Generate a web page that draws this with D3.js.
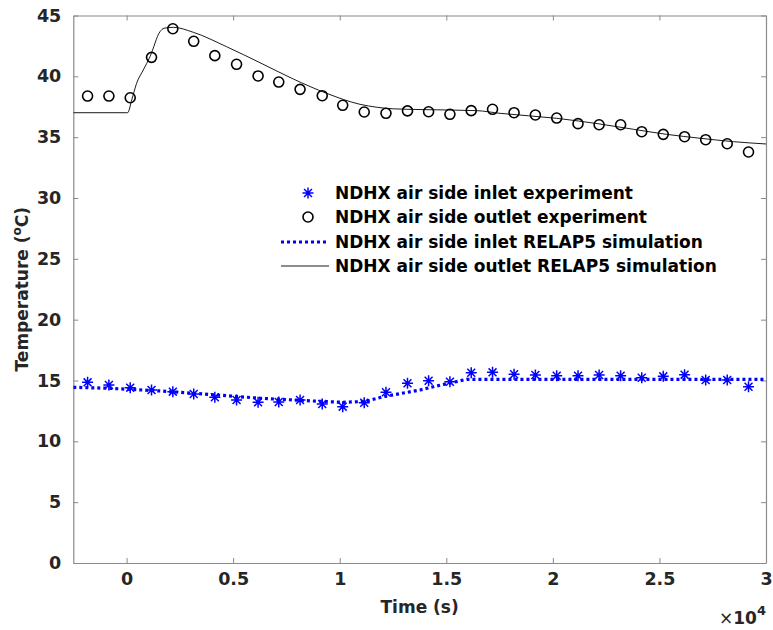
<!DOCTYPE html>
<html><head><meta charset="utf-8">
<script src="https://cdn.jsdelivr.net/npm/d3@7/dist/d3.min.js"></script>
<style>
body{margin:0;background:#fff;}
text{font-family:"DejaVu Sans",sans-serif;}
</style></head>
<body><svg id="chart" width="773" height="630"></svg>
<script>
// ---- data ----
const expTime = [-1830,-830,170,1170,2170,3150,4140,5160,6170,7140,8140,9180,10140,11150,12170,13180,
  14170,15170,16170,17170,18180,19180,20180,21180,22170,23180,24170,25180,26180,27170,28180,29180];
const inletExp = [14.85,14.63,14.41,14.22,14.08,13.89,13.62,13.40,13.21,13.23,13.40,13.07,12.85,13.17,14.03,14.77,
  14.98,14.90,15.64,15.67,15.51,15.45,15.39,15.39,15.45,15.39,15.23,15.34,15.48,15.04,15.04,14.49];
const outletExp = [38.38,38.38,38.24,41.56,43.91,42.88,41.70,40.99,40.03,39.53,38.93,38.41,37.62,37.07,36.96,37.16,
  37.09,36.88,37.18,37.29,37.01,36.82,36.57,36.11,36.02,36.02,35.45,35.23,35.04,34.79,34.46,33.78];
const inletSimTime = [-2500,-775,1580,3130,4700,6260,7800,9390,10170,10950,11270,12050,13770,14400,15960,30000];
const inletSim = [14.44,14.36,14.14,13.95,13.75,13.54,13.40,13.26,13.21,13.26,13.31,13.67,14.22,14.49,15.10,15.10];
const outletSimTime = [-2500,50,240,470,783,1098,1567,1755,2192,3130,4697,6260,7823,9390,10953,11737,12516,13767,
  16428,17521,20181,22213,23776,25343,26907,28470,30000];
const outletSim = [37.01,37.01,38.05,39.43,40.52,41.61,43.67,43.95,44.03,43.62,42.43,41.12,39.78,38.60,37.70,37.46,37.33,37.27,
  37.18,36.96,36.55,36.08,35.65,35.23,34.91,34.63,34.44];
const xTicks = [0,5000,10000,15000,20000,25000,30000];
const xTickLabels = ["0","0.5","1","1.5","2","2.5","3"];
const yTicks = [0,5,10,15,20,25,30,35,40,45];
const legendLabels = ["NDHX air side inlet experiment","NDHX air side outlet experiment",
  "NDHX air side inlet RELAP5 simulation","NDHX air side outlet RELAP5 simulation"];

// ---- layout ----
const L=73.3, R=766, T=15.5, B=563;
const svg = d3.select("#chart");
const x = d3.scaleLinear().domain([-2500,30000]).range([L,R]);
const y = d3.scaleLinear().domain([0,45]).range([B,T]);
const axisCol = "#8a8a8a", textCol = "#262626";
const tickFont = 17.5;

// axes
const gB = svg.append("g").attr("transform",`translate(0,${B})`)
  .call(d3.axisBottom(x).tickValues(xTicks).tickSizeInner(-5).tickSizeOuter(0).tickPadding(10)
    .tickFormat((d,i)=>xTickLabels[i]));
const gT = svg.append("g").attr("transform",`translate(0,${T})`)
  .call(d3.axisTop(x).tickValues(xTicks).tickSizeInner(-5).tickSizeOuter(0).tickFormat(""));
const gL = svg.append("g").attr("transform",`translate(${L},0)`)
  .call(d3.axisLeft(y).tickValues(yTicks).tickSizeInner(-5).tickSizeOuter(0).tickPadding(12));
const gR = svg.append("g").attr("transform",`translate(${R},0)`)
  .call(d3.axisRight(y).tickValues(yTicks).tickSizeInner(-5).tickSizeOuter(0).tickFormat(""));
[gB,gT,gL,gR].forEach(g=>{
  g.select(".domain").attr("stroke",axisCol).attr("stroke-width",1.2);
  g.selectAll(".tick line").attr("stroke",axisCol).attr("stroke-width",1);
  g.selectAll(".tick text").attr("fill",textCol).style("font-size",tickFont+"px").style("font-weight","bold")
   .style("font-family","'DejaVu Sans',sans-serif");
});

// clip
svg.append("clipPath").attr("id","clip").append("rect").attr("x",L).attr("y",T).attr("width",R-L).attr("height",B-T);
const plot = svg.append("g").attr("clip-path","url(#clip)");

// outlet simulation (solid black)
plot.append("path").datum(outletSimTime.map((t,i)=>[t,outletSim[i]]))
  .attr("fill","none").attr("stroke","#000").attr("stroke-width",0.9)
  .attr("d", d3.line().x(d=>x(d[0])).y(d=>y(d[1])).curve(d3.curveMonotoneX));
// inlet simulation (dotted blue)
plot.append("path").datum(inletSimTime.map((t,i)=>[t,inletSim[i]]))
  .attr("fill","none").attr("stroke","#0000ff").attr("stroke-width",3.2).attr("stroke-dasharray","3,3")
  .attr("d", d3.line().x(d=>x(d[0])).y(d=>y(d[1])));

// asterisk marker
function star(g, cx, cy, s){
  const h=s/2, d=h*0.72;
  const p=`M${cx-h},${cy}L${cx+h},${cy}M${cx},${cy-h}L${cx},${cy+h}M${cx-d},${cy-d}L${cx+d},${cy+d}M${cx-d},${cy+d}L${cx+d},${cy-d}`;
  g.append("path").attr("d",p).attr("stroke","#0000ff").attr("stroke-width",1.5).attr("fill","none");
}
const gs = svg.append("g");
expTime.forEach((t,i)=>star(gs, x(t), y(inletExp[i]), 11));
svg.append("g").selectAll("circle").data(expTime).join("circle")
  .attr("cx",d=>x(d)).attr("cy",(d,i)=>y(outletExp[i])).attr("r",5)
  .attr("fill","none").attr("stroke","#000").attr("stroke-width",1.6);

// legend
const lg = svg.append("g");
const ly = [193,217,242,266];
star(lg, 308, ly[0], 11);
lg.append("circle").attr("cx",308).attr("cy",ly[1]).attr("r",5).attr("fill","none").attr("stroke","#000").attr("stroke-width",1.6);
lg.append("line").attr("x1",281).attr("x2",329).attr("y1",ly[2]).attr("y2",ly[2])
  .attr("stroke","#0000ff").attr("stroke-width",3.2).attr("stroke-dasharray","3,3");
lg.append("line").attr("x1",281).attr("x2",329).attr("y1",ly[3]).attr("y2",ly[3]).attr("stroke","#000").attr("stroke-width",0.9);
legendLabels.forEach((s,i)=>{
  lg.append("text").attr("x",335).attr("y",ly[i]).attr("dy","0.36em").attr("fill","#000")
    .style("font-size","17px").style("font-weight","bold").text(s);
});

// axis labels
svg.append("text").attr("x",(L+R)/2).attr("y",613).attr("text-anchor","middle").attr("fill",textCol)
  .style("font-size","17px").style("font-weight","bold").text("Time (s)");
const yl = svg.append("text").attr("transform",`translate(28,${(T+B)/2}) rotate(-90)`).attr("text-anchor","middle")
  .attr("fill",textCol).style("font-size","17px").style("font-weight","bold");
yl.append("tspan").text("Temperature (");
yl.append("tspan").attr("dy",-7).style("font-size","12px").text("o");
yl.append("tspan").attr("dy",7).text("C)");
const ex = svg.append("text").attr("x",766).attr("y",624).attr("text-anchor","end").attr("fill",textCol)
  .style("font-size","17px").style("font-weight","bold");
ex.append("tspan").style("font-weight","normal").text("×");
ex.append("tspan").text("10");
ex.append("tspan").attr("dy",-9).style("font-size","13px").text("4");
</script></body></html>
